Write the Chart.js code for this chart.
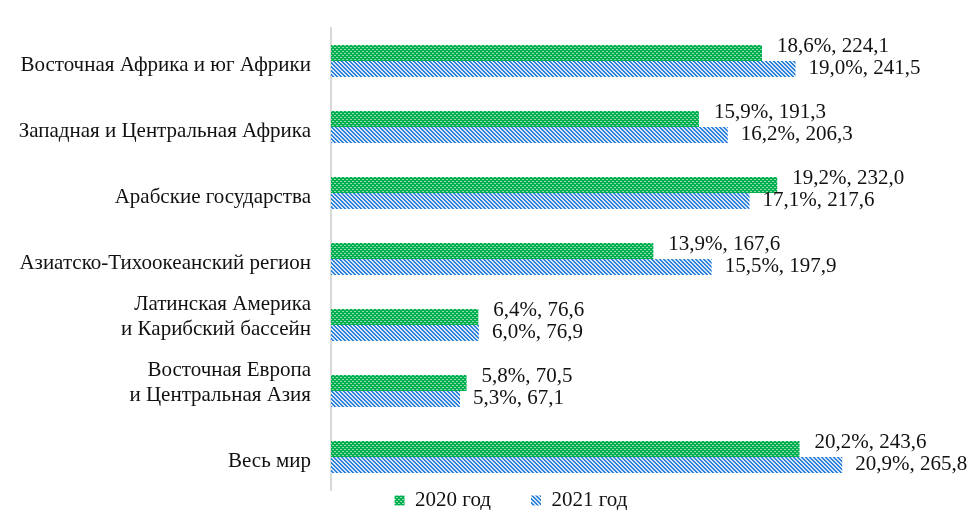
<!DOCTYPE html>
<html>
<head>
<meta charset="utf-8">
<script src="https://cdn.jsdelivr.net/npm/chart.js@4"></script>
<style>
  html,body{margin:0;padding:0;background:#fff;}
  #wrap{width:972px;height:510px;}
</style>
</head>
<body>
<div id="wrap"><canvas id="c" width="972" height="510"></canvas></div>
<script>
const regions = [
  'Восточная Африка и юг Африки',
  'Западная и Центральная Африка',
  'Арабские государства',
  'Азиатско-Тихоокеанский регион',
  ['Латинская Америка', 'и Карибский бассейн'],
  ['Восточная Европа', 'и Центральная Азия'],
  'Весь мир'
];
const seriesNames = ['2020 год', '2021 год'];
const values2020 = [224.1, 191.3, 232.0, 167.6, 76.6, 70.5, 243.6];
const values2021 = [241.5, 206.3, 217.6, 197.9, 76.9, 67.1, 265.8];
const share2020 = [18.6, 15.9, 19.2, 13.9, 6.4, 5.8, 20.2];
const share2021 = [19.0, 16.2, 17.1, 15.5, 6.0, 5.3, 20.9];

const FONT = '"Liberation Serif", "Times New Roman", serif';
const canvas = document.getElementById('c');
const ctx = canvas.getContext('2d');

// hatch fills like the office chart
function makePattern(kind){
  const t = document.createElement('canvas');
  t.width = 4; t.height = 4;
  const g = t.getContext('2d');
  if(kind==='dots'){
    g.fillStyle = '#00b050'; g.fillRect(0,0,4,4);
    g.fillStyle = '#8fdcb0';
    g.fillRect(0,1,2,1); g.fillRect(2,3,2,1);
  }else{
    g.fillStyle = '#d6e7f8'; g.fillRect(0,0,4,4);
    g.fillStyle = '#2f80d8';
    for(let x=0;x<4;x++) for(let y=0;y<4;y++){
      if(((x-y)%4+4)%4 < 2) g.fillRect(x,y,1,1);
    }
  }
  return ctx.createPattern(t,'repeat');
}
const greenFill = makePattern('dots');
const blueFill = makePattern('stripes');

const fmt = v => v.toFixed(1).replace('.', ',');

// two-line names sit a bit higher in the original: pad them with a blank line
const tickLabels = regions.map(r => Array.isArray(r) ? r.concat(['']) : r);

const valueLabels = {
  id:'valueLabels',
  afterDatasetsDraw(chart){
    const c = chart.ctx;
    c.save();
    c.font = '21px ' + FONT;
    c.fillStyle = '#111';
    c.textBaseline = 'middle';
    c.textAlign = 'left';
    const shares = [share2020, share2021];
    chart.data.datasets.forEach((ds,di)=>{
      const meta = chart.getDatasetMeta(di);
      meta.data.forEach((bar,i)=>{
        const txt = fmt(shares[di][i]) + '%, ' + fmt(ds.data[i]);
        c.fillText(txt, bar.x + (di===0 ? 15 : 13), bar.y + (di===0 ? -6 : -1));
      });
    });
    c.restore();
  }
};

// nudge the legend to where the original sits
const legendShift = {
  id:'legendShift',
  afterLayout(chart){
    const lg = chart.legend;
    lg.left += 57; lg.right += 57;
    lg.top = 450; lg.bottom = 510;
  }
};

new Chart(canvas, {
  type:'bar',
  data:{
    labels: tickLabels,
    datasets:[
      { label: seriesNames[0], data: values2020, backgroundColor: greenFill, borderWidth:0,
        categoryPercentage:0.486, barPercentage:1.0 },
      { label: seriesNames[1], data: values2021, backgroundColor: blueFill, borderWidth:0,
        categoryPercentage:0.486, barPercentage:1.0 }
    ]
  },
  options:{
    indexAxis:'y',
    responsive:false,
    animation:false,
    layout:{ padding:{ top:28, right:64, left:0, bottom:0 } },
    scales:{
      x:{ display:false, min:0, max:300 },
      y:{
        grid:{ display:false, drawTicks:false },
        border:{ display:true, color:'#d9d9d9', width:2 },
        ticks:{ color:'#111', padding:20, labelOffset:4, autoSkip:false,
          font:{ family:FONT, size:21, lineHeight:1.15 } },
        afterFit(scale){
          scale.width = 331;
          scale.paddingTop = 0; scale.paddingBottom = 0;
        }
      }
    },
    plugins:{
      tooltip:{ enabled:false },
      legend:{
        position:'bottom',
        maxHeight:20,
        labels:{ boxWidth:10, boxHeight:10, padding:40, color:'#111',
          font:{ family:FONT, size:21 } }
      }
    }
  },
  plugins:[valueLabels, legendShift]
});
</script>
</body>
</html>
